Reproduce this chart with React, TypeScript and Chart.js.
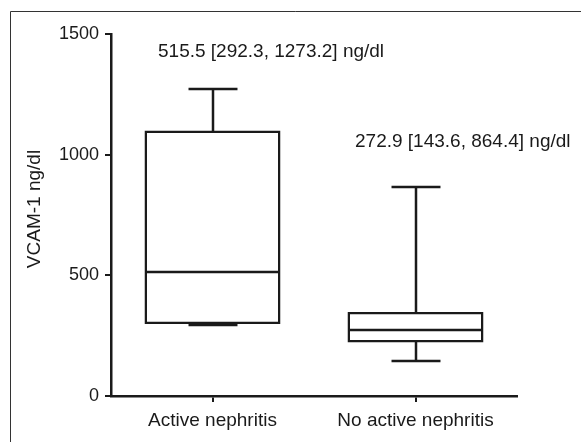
import React, { useEffect, useRef } from "react";
import { Chart, registerables } from "chart.js";

Chart.register(...registerables);

// ---- data ----
const categories = ["Active nephritis", "No active nephritis"];
const q1Values = [298, 222];
const q3Values = [1100, 348];
const medianValues = [515.5, 272.9];
const minValues = [292.3, 143.6];
const maxValues = [1273.2, 864.4];
const annotationTexts = ["515.5 [292.3, 1273.2] ng/dl", "272.9 [143.6, 864.4] ng/dl"];
const yTickValues = [0, 500, 1000, 1500];
const yTitle = "VCAM-1 ng/dl";

const FONT = "'Liberation Sans', Arial, Helvetica, sans-serif";
const INK = "#1a1a1a";
const LW = 2.5;

const boxPlugin = {
  id: "boxWhiskers",
  beforeDraw(chart: any) {
    const ctx = chart.ctx;
    ctx.save();
    ctx.fillStyle = "#fff";
    ctx.fillRect(0, 0, chart.width, chart.height);
    // outer frame (top + left edges visible)
    ctx.strokeStyle = "#333";
    ctx.lineWidth = 1;
    ctx.beginPath();
    ctx.moveTo(10.5, chart.height);
    ctx.lineTo(10.5, 11.5);
    ctx.lineTo(chart.width, 11.5);
    ctx.stroke();
    ctx.restore();
  },
  afterDatasetsDraw(chart: any) {
    const ctx = chart.ctx;
    const ys = chart.scales.y;
    const meta = chart.getDatasetMeta(0);
    const py = (v: number) => Math.round(ys.getPixelForValue(v));
    ctx.save();
    ctx.strokeStyle = INK;
    ctx.lineWidth = LW;
    ctx.lineCap = "butt";
    const line = (x1: number, y1: number, x2: number, y2: number) => {
      ctx.beginPath();
      ctx.moveTo(x1, y1);
      ctx.lineTo(x2, y2);
      ctx.stroke();
    };
    meta.data.forEach((bar: any, i: number) => {
      const { x, width } = bar.getProps(["x", "width"], true);
      const cx = Math.round(x);
      const half = width / 2 - 1;
      const cap = width * 0.18;
      // median
      line(x - half, py(medianValues[i]), x + half, py(medianValues[i]));
      // upper whisker
      line(cx, py(q3Values[i]), cx, py(maxValues[i]));
      line(cx - cap, py(maxValues[i]), cx + cap, py(maxValues[i]));
      // lower whisker
      line(cx, py(q1Values[i]), cx, py(minValues[i]));
      line(cx - cap, py(minValues[i]), cx + cap, py(minValues[i]));
    });
    ctx.restore();

    // annotations + y title
    const area = chart.chartArea;
    ctx.save();
    ctx.fillStyle = INK;
    ctx.font = `19px ${FONT}`;
    ctx.textAlign = "left";
    ctx.textBaseline = "middle";
    ctx.fillText(annotationTexts[0], area.left + 47, area.top + 18);
    ctx.fillText(annotationTexts[1], area.left + 244, area.top + 108);
    ctx.translate(area.left - 76, (area.top + area.bottom) / 2 - 6);
    ctx.rotate(-Math.PI / 2);
    ctx.textAlign = "center";
    ctx.fillText(yTitle, 0, 0);
    ctx.restore();
  },
};

export default function App() {
  const ref = useRef<HTMLCanvasElement>(null);
  useEffect(() => {
    if (!ref.current) return;
    const chart = new Chart(ref.current, {
      type: "bar",
      data: {
        labels: categories,
        datasets: [
          {
            data: q1Values.map((v, i) => [v, q3Values[i]]) as any,
            backgroundColor: "#fff",
            borderColor: INK,
            borderWidth: LW,
            borderSkipped: false,
            barPercentage: 0.67,
            categoryPercentage: 1,
          },
        ],
      },
      options: {
        responsive: false,
        animation: false,
        events: [],
        layout: { padding: { left: 0, top: 34, right: 64, bottom: 0 } },
        plugins: { legend: { display: false }, tooltip: { enabled: false } },
        scales: {
          x: {
            grid: {
              display: true,
              drawOnChartArea: false,
              offset: false,
              tickLength: 6,
              color: INK,
              lineWidth: 2,
            },
            border: { display: true, color: INK, width: 2.5 },
            ticks: { font: { family: FONT, size: 19 }, color: INK, padding: 7, maxRotation: 0 },
            afterFit: (s: any) => {
              s.height = 46;
            },
          },
          y: {
            min: 0,
            max: 1500,
            afterBuildTicks: (s: any) => {
              s.ticks = yTickValues.map((v) => ({ value: v }));
            },
            grid: {
              display: true,
              drawOnChartArea: false,
              tickLength: 6,
              color: INK,
              lineWidth: 2,
            },
            border: { display: true, color: INK, width: 2.5 },
            ticks: {
              font: { family: FONT, size: 18 },
              color: INK,
              padding: 6,
              callback: (v: any) => String(v),
            },
            afterFit: (s: any) => {
              s.width = 111;
            },
          },
        },
      },
      plugins: [boxPlugin],
    });
    return () => chart.destroy();
  }, []);
  return (
    <canvas
      ref={ref}
      width={581}
      height={442}
      style={{ position: "fixed", left: 0, top: 0, display: "block" }}
    />
  );
}
